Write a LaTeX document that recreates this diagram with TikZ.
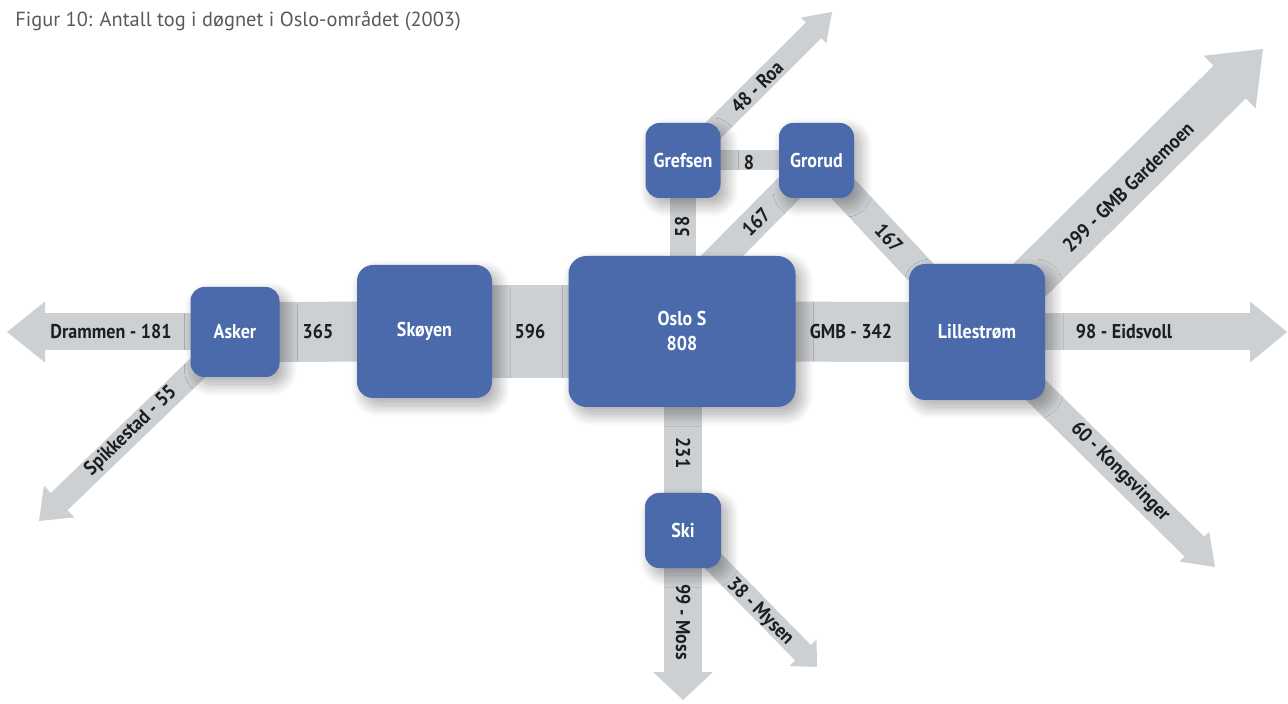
\documentclass[tikz,border=0pt]{standalone}
\usepackage{fontspec}
\setmainfont{PT Sans}
\newfontfamily\labfont[FakeStretch=0.9]{PT Sans}
\usetikzlibrary{calc,shadows.blur}
\definecolor{boxblue}{HTML}{4A6AAC}
\definecolor{bandgray}{HTML}{CDD0D3}
\definecolor{labink}{HTML}{1E1E1E}
\definecolor{titleink}{HTML}{5A5A5A}
\pgfdeclarelayer{bg}
\pgfsetlayers{bg,main}
% #1 start node, #2 tip coordinate, #3 shaft width, #4 half head width, #5 head length
\newcommand{\flowarrow}[5]{%
  \coordinate (fa-b) at ($(#2)!#5!(#1.center)$);
  \draw[band, line width=#3] (#1.center) -- ($(fa-b)!0.6pt!(#2)$);
  \fill[bandgray] (#2) -- ($(fa-b)!#4!90:(#2)$) -- ($(fa-b)!#4!-90:(#2)$) -- cycle;
}
\begin{document}
\begin{tikzpicture}[x=0.5pt,y=-0.5pt,
  station/.style={fill=boxblue, text=white, inner sep=0pt,
    font=\labfont\bfseries\fontsize{10}{12.5}\selectfont, align=center,
    blur shadow={shadow xshift=3pt, shadow yshift=-3.5pt, shadow blur radius=6pt, shadow blur steps=24, shadow opacity=35}},
  band/.style={draw=bandgray, line cap=butt},
  flowlabel/.style={text=labink, inner sep=0pt, font=\labfont\bfseries\fontsize{10}{12}\selectfont}]
\useasboundingbox (0,0) rectangle (1288,704);

% title
\node[anchor=base west, inner sep=0pt, text=titleink, font=\fontsize{10.2}{12}\selectfont] (title) at (15,27)
  {Figur 10: Antall tog i døgnet i Oslo-området (2003)};

% stations
\node[station, rounded corners=7pt, minimum width=44.5pt, minimum height=45pt] (asker) at (235,332) {Asker};
\node[station, rounded corners=8pt, minimum width=67.5pt, minimum height=66.5pt] (skoyen) at (424.5,331.5) {Skøyen};
\node[station, rounded corners=9pt, minimum width=113.5pt, minimum height=75.5pt] (oslo) at (682,331.5) {Oslo S\\808};
\node[station, rounded corners=7pt, minimum width=37.5pt, minimum height=37.5pt] (grefsen) at (683,160.5) {Grefsen};
\node[station, rounded corners=7pt, minimum width=37.5pt, minimum height=37.5pt] (grorud) at (816.5,160.5) {Grorud};
\node[station, rounded corners=7pt, minimum width=38pt, minimum height=37.5pt] (ski) at (683,530.5) {Ski};
\node[station, rounded corners=8pt, minimum width=68pt, minimum height=68pt] (lille) at (977,332) {Lillestrøm};

% free ends
\coordinate (tDram) at (7,332);
\coordinate (tSpik) at (39,521);
\coordinate (tRoa) at (832,12);
\coordinate (tGard) at (1263,49);
\coordinate (tEids) at (1287,332);
\coordinate (tKong) at (1215,567);
\coordinate (tMoss) at (683,700);
\coordinate (tMys) at (817,667);
\coordinate (gInOslo) at (697,281);

\begin{pgfonlayer}{bg}
  \draw[band, line width=30pt] (asker.center) -- (skoyen.center);
  \draw[band, line width=46.5pt] (skoyen.center) -- (oslo.center);
  \draw[band, line width=30pt] (oslo.center) -- (lille.center);
  \draw[band, line width=13pt] (grefsen.center) -- (grefsen.center |- oslo.center);
  \draw[band, line width=10pt] (grefsen.center) -- (grorud.center);
  \draw[band, line width=15pt] (grorud.center) -- (gInOslo);
  \draw[band, line width=15pt] (grorud.center) -- (lille.center);
  \draw[band, line width=19pt] (ski.center |- oslo.center) -- (ski.center);
  \flowarrow{asker}{tDram}{18.5pt}{15.25pt}{19pt}
  \flowarrow{asker}{tSpik}{12pt}{11pt}{14pt}
  \flowarrow{grefsen}{tRoa}{11pt}{9pt}{13pt}
  \flowarrow{lille}{tGard}{23pt}{18.5pt}{23.5pt}
  \flowarrow{lille}{tEids}{18.5pt}{15.25pt}{18.5pt}
  \flowarrow{lille}{tKong}{14pt}{10.5pt}{14.5pt}
  \flowarrow{ski}{tMoss}{19pt}{15pt}{14pt}
  \flowarrow{ski}{tMys}{11pt}{9.5pt}{10pt}
\end{pgfonlayer}

% flow labels
\node[flowlabel] (lDram) at (111,332) {Drammen - 181};
\node[flowlabel] (lAS) at (318,332) {365};
\node[flowlabel] (lSO) at (530,332) {596};
\node[flowlabel] (lOL) at (851,332) {GMB - 342};
\node[flowlabel] (lEids) at (1124,332) {98 - Eidsvoll};
\node[flowlabel] (lGG) at (749,163) {8};
\node[flowlabel, rotate=90] (lGO) at (682,227) {58};
\node[flowlabel, rotate=45] (lOG) at (756,222) {167};
\node[flowlabel, rotate=-47] (lGL) at (889,238) {167};
\node[flowlabel, rotate=-90] (lOS) at (683,453) {231};
\node[flowlabel, rotate=-90] (lMoss) at (683,622) {99 - Moss};
\node[flowlabel, rotate=-45] (lMys) at (760,612) {38 - Mysen};
\node[flowlabel, rotate=45] (lRoa) at (757,87) {48 - Roa};
\node[flowlabel, rotate=44.7] (lGard) at (1128,187) {299 - GMB Gardemoen};
\node[flowlabel, rotate=-45] (lKong) at (1120,472) {60 - Kongsvinger};
\node[flowlabel, rotate=44] (lSpik) at (131,431) {Spikkestad - 55};
\end{tikzpicture}
\end{document}
